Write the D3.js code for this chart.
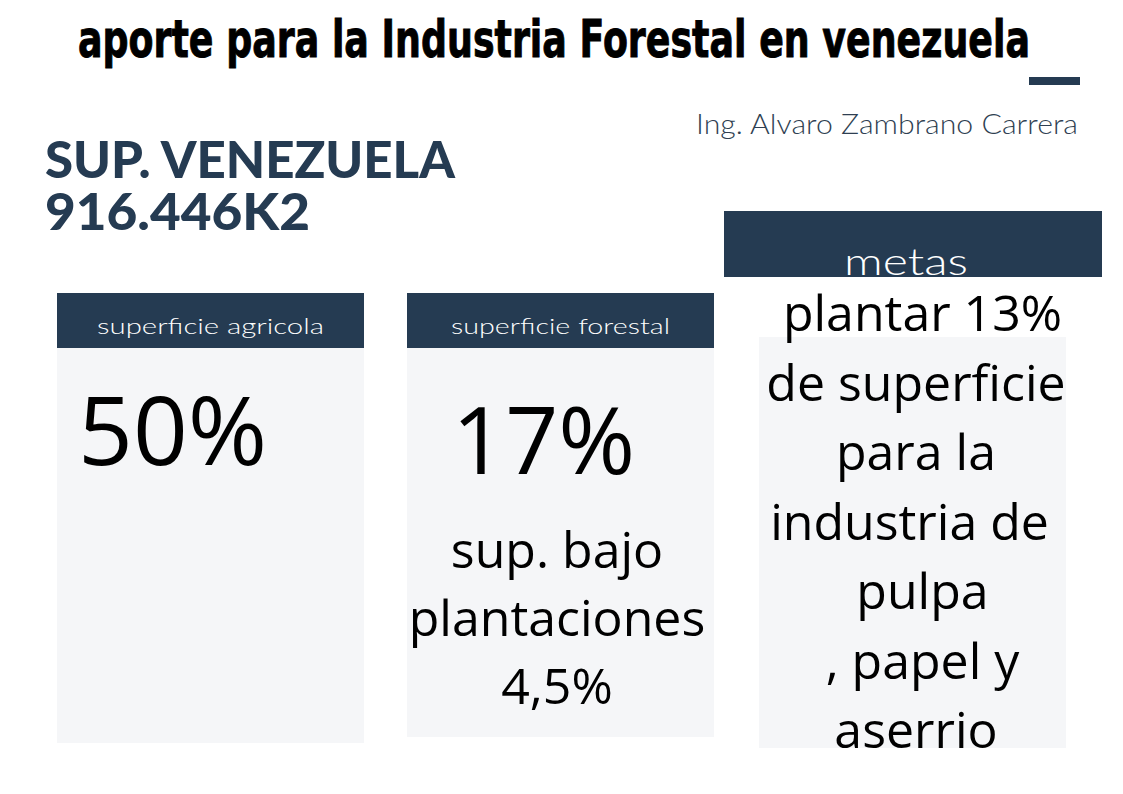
<!DOCTYPE html>
<html>
<head>
<meta charset="utf-8">
<script src="https://cdn.jsdelivr.net/npm/d3@7"></script>
<style>
  html, body { margin: 0; padding: 0; background: #ffffff; }
  svg text { white-space: pre; }
</style>
</head>
<body>
<svg id="chart" width="1123" height="794"></svg>
<script>
// ---- data ----
const title = "aporte para la Industria Forestal en venezuela";
const author = "Ing. Alvaro Zambrano Carrera";
const headline = ["SUP. VENEZUELA", "916.446K2"];
const categories = ["superficie agricola", "superficie forestal", "metas"];
const bigValues = ["50%", "17%", ""];
const detailLines = [
  [],
  ["sup. bajo", "plantaciones", "4,5%"],
  [" plantar 13%", "de superficie", "para la", "industria de ", " pulpa", " , papel y", "aserrio"]
];

// ---- layout ----
const dark = "#253b52";
const light = "#f5f6f8";
const svg = d3.select("#chart");

// panel geometry (header box + body box) for each category
const panels = [
  { hx: 57, hy: 293, hw: 307, hh: 55, bx: 57, by: 348, bw: 307, bh: 395, hf: 22, hl: 227, hb: 334, vx: 78, vb: 465, vf: 96, dx: 210, dy: 568, dl: 68 },
  { hx: 407, hy: 293, hw: 307, hh: 55, bx: 407, by: 348, bw: 307, bh: 389, hf: 22, hl: 219, hb: 334, vx: 452, vb: 474, vf: 93, dx: 557, dy: 568, dl: 68 },
  { hx: 724, hy: 211, hw: 378, hh: 66, bx: 759, by: 337, bw: 307, bh: 411, hf: 38, hl: 124, hb: 275, vx: 0, vb: 0, vf: 96, dx: 916, dy: 331, dl: 69.5 }
];

// title
svg.append("text")
  .attr("x", 78).attr("y", 57)
  .attr("textLength", 952).attr("lengthAdjust", "spacingAndGlyphs")
  .attr("font-family", "DejaVu Sans").attr("font-weight", "bold")
  .attr("font-size", 51).attr("fill", "#000")
  .attr("stroke", "#000").attr("stroke-width", 1)
  .text(title);

svg.append("rect").attr("x", 1029).attr("y", 77).attr("width", 51).attr("height", 8).attr("fill", dark);

svg.append("text")
  .attr("x", 696).attr("y", 134)
  .attr("textLength", 382).attr("lengthAdjust", "spacingAndGlyphs")
  .attr("font-family", "Lato").attr("font-weight", 300)
  .attr("font-size", 28).attr("fill", "#2f3f52")
  .text(author);

svg.selectAll("text.headline").data(headline).join("text")
  .attr("class", "headline")
  .attr("x", 45).attr("y", (d, i) => 178 + i * 52)
  .attr("textLength", (d, i) => i === 0 ? 410 : 265).attr("lengthAdjust", "spacingAndGlyphs")
  .attr("font-family", "Lato").attr("font-weight", 900)
  .attr("font-size", 52).attr("fill", dark)
  .text(d => d);

const g = svg.selectAll("g.panel").data(categories).join("g").attr("class", "panel");

g.append("rect")
  .attr("x", (d, i) => panels[i].bx).attr("y", (d, i) => panels[i].by)
  .attr("width", (d, i) => panels[i].bw).attr("height", (d, i) => panels[i].bh)
  .attr("fill", light);

g.append("rect")
  .attr("x", (d, i) => panels[i].hx).attr("y", (d, i) => panels[i].hy)
  .attr("width", (d, i) => panels[i].hw).attr("height", (d, i) => panels[i].hh)
  .attr("fill", dark);

g.append("text")
  .attr("x", (d, i) => panels[i].hx + panels[i].hw / 2 + (i === 2 ? -7 : 0) - panels[i].hl / 2)
  .attr("y", (d, i) => panels[i].hb)
  .attr("textLength", (d, i) => panels[i].hl).attr("lengthAdjust", "spacingAndGlyphs")
  .attr("font-family", "Lato").attr("font-weight", 300)
  .attr("font-size", (d, i) => panels[i].hf)
  .attr("fill", "#ffffff")
  .text(d => d);

g.append("text")
  .attr("x", (d, i) => panels[i].vx).attr("y", (d, i) => panels[i].vb)
  .attr("font-family", "Open Sans").attr("font-size", (d, i) => panels[i].vf).attr("fill", "#000")
  .text((d, i) => bigValues[i]);

g.each(function (d, i) {
  const p = panels[i];
  d3.select(this).selectAll("text.detail").data(detailLines[i]).join("text")
    .attr("class", "detail")
    .attr("x", p.dx).attr("y", (t, j) => p.dy + j * p.dl)
    .attr("text-anchor", "middle")
    .attr("font-family", "Open Sans").attr("font-size", 50).attr("fill", "#000")
    .text(t => t);
});
</script>
</body>
</html>
